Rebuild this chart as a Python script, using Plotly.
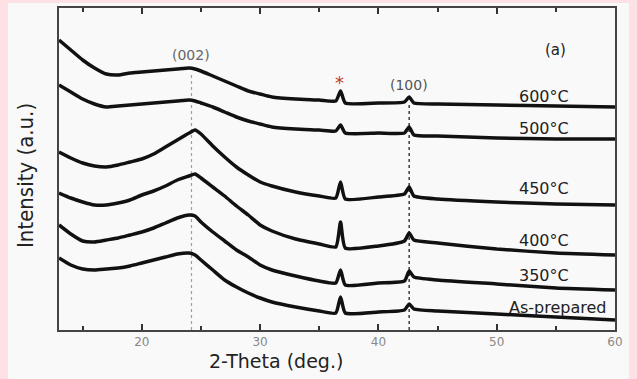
import plotly.graph_objects as go

# 2-theta sampling positions (deg.)
two_theta = [13, 14, 15, 16, 17, 18, 19, 20, 21, 22, 23, 24, 24.5, 25, 26, 27, 28, 29, 30, 31,
             33, 35, 36.4, 36.8, 37.2, 40, 42.2, 42.6, 43, 45, 50, 55, 60]

# Intensities (a.u., stacked/offset as in the figure)
i_600 = [290, 280, 270, 262, 256, 255, 257, 258, 259, 260, 261, 262, 261, 259, 254, 249, 244, 239, 236, 233,
         231, 230, 229, 239, 227, 227, 228, 233, 227, 226, 225, 224, 223]
i_500 = [245, 238, 231, 226, 223, 224, 225, 226, 227, 228, 229, 230, 229, 227, 223, 218, 213, 209, 206, 203,
         201, 200, 199, 205, 197, 197, 197, 203, 195, 194, 192, 191, 191]
i_450 = [178, 172, 167, 164, 163, 165, 168, 171, 176, 183, 190, 197, 200, 196, 184, 173, 163, 155, 148, 144,
         138, 134, 132, 148, 131, 133, 136, 143, 134, 131, 128, 126, 125]
i_400 = [137, 132, 128, 125, 125, 127, 130, 135, 139, 144, 150, 154, 156, 152, 143, 134, 124, 115, 105, 99,
         91, 86, 83, 108, 82, 84, 89, 97, 90, 87, 81, 77, 75]
i_350 = [105, 96, 89, 88, 90, 92, 95, 98, 102, 107, 112, 115, 114, 108, 98, 89, 80, 73, 65, 60,
         54, 49, 47, 60, 45, 47, 49, 59, 53, 50, 46, 42, 40]
i_asp = [72, 65, 61, 60, 61, 62, 64, 67, 70, 73, 76, 77, 75, 70, 60, 50, 43, 37, 32, 28,
         23, 19, 17, 33, 17, 18, 20, 26, 21, 19, 16, 13, 10]

series = [i_600, i_500, i_450, i_400, i_350, i_asp]
labels = ["600°C", "500°C", "450°C", "400°C", "350°C", "As-prepared"]
label_y = [234, 202, 142, 90, 55, 23]

peak_002 = 24.2
peak_100 = 42.6
star_pos = 36.75
x_ticks = [20, 30, 40, 50, 60]

fig = go.Figure()
for s, name in zip(series, labels):
    fig.add_trace(go.Scatter(x=two_theta, y=s, mode="lines", name=name,
                             line=dict(color="#111111", width=3.5, shape="spline", smoothing=0.5),
                             showlegend=False))

# reference lines
fig.add_shape(type="line", xref="x", yref="y", x0=peak_002, x1=peak_002, y0=0, y1=258,
              line=dict(color="#a0a0a0", width=1.2, dash="dot"), layer="below")
fig.add_shape(type="line", xref="x", yref="y", x0=peak_100, x1=peak_100, y0=0, y1=227,
              line=dict(color="#222222", width=1.3, dash="dot"), layer="below")

# white panel on pink page
fig.add_shape(type="rect", xref="paper", yref="paper", x0=-0.0917, x1=1.0252, y0=-0.16, y1=1.0155,
              fillcolor="#f9f9f9", line=dict(width=0), layer="below")

lab_font = dict(family="DejaVu Sans", size=16, color="#222222")
for name, yv in zip(labels, label_y):
    xr = 59.4 if name == "As-prepared" else 56.3
    fig.add_annotation(x=xr, y=yv, text=name, showarrow=False, xanchor="right", yanchor="middle",
                       font=lab_font)

fig.add_annotation(x=peak_002, y=275, text="(002)", showarrow=False,
                   font=dict(family="DejaVu Sans", size=14, color="#666666"))
fig.add_annotation(x=peak_100, y=245, text="(100)", showarrow=False,
                   font=dict(family="DejaVu Sans", size=14, color="#555555"))
fig.add_annotation(x=star_pos, y=248, text="*", showarrow=False,
                   font=dict(family="DejaVu Sans", size=18, color="#c0392b"))
fig.add_annotation(x=55.0, y=280, text="(a)", showarrow=False,
                   font=dict(family="DejaVu Sans", size=15, color="#222222"))

# axis titles
fig.add_annotation(xref="paper", yref="paper", x=(276 - 59) / 556, y=(330 - 361) / 322,
                   text="2-Theta (deg.)", showarrow=False, xanchor="center", yanchor="middle",
                   font=dict(family="DejaVu Sans", size=19, color="#222222"))
fig.add_annotation(xref="paper", yref="paper", x=(25 - 59) / 556, y=(330 - 176) / 322,
                   text="Intensity (a.u.)", showarrow=False, textangle=-90,
                   xanchor="center", yanchor="middle",
                   font=dict(family="DejaVu Sans Condensed", size=22, color="#222222"))

fig.update_layout(
    width=637, height=379,
    margin=dict(l=59, r=22, t=8, b=49),
    paper_bgcolor="#fde1e5",
    plot_bgcolor="#f9f9f9",
    xaxis=dict(range=[13, 60], tickvals=x_ticks, ticks="inside", ticklen=6, tickwidth=1.5,
               tickcolor="#333333", showline=True, linecolor="#444444", linewidth=2, mirror="ticks",
               showgrid=False, zeroline=False, automargin=False,
               tickfont=dict(family="DejaVu Sans", size=12, color="#888888"),
               minor=dict(dtick=5, ticks="inside", ticklen=4, tickcolor="#333333", showgrid=False)),
    yaxis=dict(range=[0, 322], showticklabels=False, ticks="", showline=True, linecolor="#444444",
               linewidth=2, mirror=True, showgrid=False, zeroline=False, automargin=False),
)

fig.write_html("out.html", config={"displayModeBar": False},
               post_script="document.body.style.margin='0';document.body.style.background='#fde1e5';")
